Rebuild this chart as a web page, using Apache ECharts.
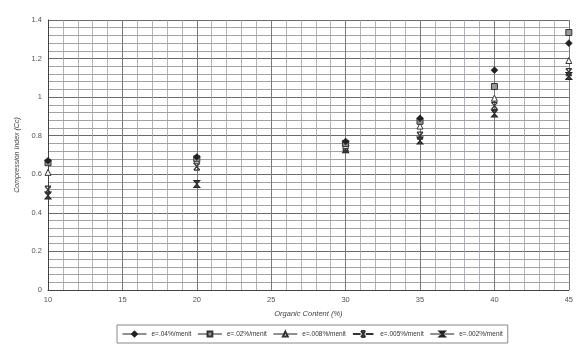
<!DOCTYPE html>
<html><head><meta charset="utf-8">
<script src="https://cdn.jsdelivr.net/npm/echarts@6/dist/echarts.min.js"></script>
<style>html,body{margin:0;padding:0;background:#fff}#c{width:576px;height:345px}</style>
</head><body><div id="c"></div>
<script>
const organicContent = [10, 20, 30, 35, 40, 45];
const seriesNames = ['e=.04%/menit', 'e=.02%/menit', 'e=.008%/menit', 'e=.005%/menit', 'e=.002%/menit'];
const cc_04 = [0.67, 0.69, 0.77, 0.89, 1.14, 1.28];
const cc_02 = [0.66, 0.68, 0.76, 0.875, 1.055, 1.335];
const cc_008 = [0.61, 0.67, 0.75, 0.85, 0.995, 1.19];
const cc_005 = [0.52, 0.64, 0.74, 0.80, 0.955, 1.13];
const cc_002 = [0.49, 0.55, 0.73, 0.775, 0.915, 1.11];
const yTicks = [0, 0.2, 0.4, 0.6, 0.8, 1, 1.2, 1.4];
const xTicks = [10, 15, 20, 25, 30, 35, 40, 45];

const allData = [cc_04, cc_02, cc_008, cc_005, cc_002];
const symbols = [
  'diamond',
  'rect',
  'triangle',
  'path://M0,0L10,0M0,12L10,12M0,0L10,12M10,0L0,12',
  'path://M0,0L10,0L0,12L10,12Z'
];
const styles = [
  {color:'#222', borderColor:'#222', borderWidth:0.5},
  {color:'#999', borderColor:'#333', borderWidth:1},
  {color:'#fff', borderColor:'#333', borderWidth:1},
  {color:'#fff', borderColor:'#333', borderWidth:1.2},
  {color:'#444', borderColor:'#222', borderWidth:1}
];
const sizes = [7, 6, 6, [6,7], [6,7]];
const legendIcon005 = 'path://M0,4L9,4M15,4L24,4M9.5,0.5L14.5,0.5M9.5,7.5L14.5,7.5M9.5,0.5L14.5,7.5M14.5,0.5L9.5,7.5';

const chart = echarts.init(document.getElementById('c'));
chart.setOption({
  animation: false,
  grid: {left: 48, right: 6, top: 20, bottom: 55, show: false},
  xAxis: {
    type: 'value', min: 10, max: 45, interval: 5,
    name: 'Organic Content (%)', nameLocation: 'middle', nameGap: 20,
    nameTextStyle: {fontSize: 7.5, fontStyle: 'italic', color: '#444', fontFamily: 'Liberation Sans'},
    axisLine: {show: true, lineStyle: {color: '#444', width: 1}},
    axisTick: {show: false},
    axisLabel: {fontSize: 7.5, color: '#555', margin: 6, fontFamily: 'Liberation Sans',
      formatter: v => xTicks.includes(v) ? String(v) : ''},
    splitLine: {show: true, lineStyle: {color: '#7a7a7a', width: 1}},
    minorTick: {show: false, splitNumber: 5},
    minorSplitLine: {show: true, lineStyle: {color: '#a0a0b0', width: 0.8}}
  },
  yAxis: {
    type: 'value', min: 0, max: 1.4, interval: 0.2,
    name: 'Compression Index (Cc)', nameLocation: 'middle', nameGap: 22,
    nameTextStyle: {fontSize: 7, fontStyle: 'italic', color: '#444', fontFamily: 'Liberation Sans'},
    axisLine: {show: true, lineStyle: {color: '#444', width: 1}},
    axisTick: {show: false},
    axisLabel: {fontSize: 7.5, color: '#555', margin: 6, fontFamily: 'Liberation Sans',
      formatter: v => { const t = yTicks.find(y => Math.abs(y - v) < 1e-6); return t === undefined ? '' : String(t); }},
    splitLine: {show: true, lineStyle: {color: '#6a6a6a', width: 1}},
    minorTick: {show: false, splitNumber: 5},
    minorSplitLine: {show: true, lineStyle: {color: '#8a8a8a', width: 0.8}}
  },
  legend: {
    bottom: 2, left: 117,
    data: seriesNames.map((n, i) => i === 3 ? {name: n, icon: legendIcon005} : n),
    itemWidth: 24, itemHeight: 6, itemGap: 6,
    borderColor: '#888', borderWidth: 1, padding: [5, 5],
    textStyle: {fontSize: 6.5, color: '#333', fontFamily: 'Liberation Sans'},
    lineStyle: {width: 1, color: '#222', opacity: 1}
  },
  series: seriesNames.map((name, i) => ({
    name: name,
    type: 'line',
    data: organicContent.map((x, j) => [x, allData[i][j]]),
    symbol: symbols[i],
    symbolSize: sizes[i],
    showSymbol: true,
    lineStyle: {width: 0, opacity: 0},
    itemStyle: styles[i],
    z: 10 - i
  }))
});
</script></body></html>
